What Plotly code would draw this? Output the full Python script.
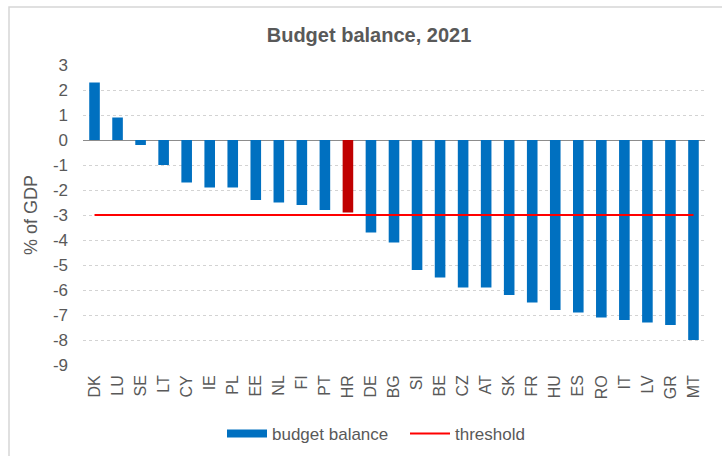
import plotly.graph_objects as go

# Country codes, ordered by budget balance
countries = ["DK", "LU", "SE", "LT", "CY", "IE", "PL", "EE", "NL", "FI", "PT", "HR",
             "DE", "BG", "SI", "BE", "CZ", "AT", "SK", "FR", "HU", "ES", "RO", "IT",
             "LV", "GR", "MT"]
balance = [2.3, 0.9, -0.2, -1.0, -1.7, -1.9, -1.9, -2.4, -2.5, -2.6, -2.8, -2.9,
           -3.7, -4.1, -5.2, -5.5, -5.9, -5.9, -6.2, -6.5, -6.8, -6.9, -7.1, -7.2,
           -7.3, -7.4, -8.0]
threshold_value = -3
highlight = "HR"
y_ticks = [3, 2, 1, 0, -1, -2, -3, -4, -5, -6, -7, -8, -9]

BLUE = "#0070C0"
DARK_RED = "#C00000"
RED = "#FF0000"
TEXT = "#595959"
FONT = "Liberation Sans, Arial, sans-serif"

bar_colors = [DARK_RED if c == highlight else BLUE for c in countries]

fig = go.Figure()
fig.add_trace(go.Bar(
    x=countries, y=balance, name="budget balance", showlegend=False,
    marker=dict(color=bar_colors, line=dict(width=0)),
))
# wide rectangular legend key for the bars
fig.add_trace(go.Scatter(
    x=[None], y=[None], name="budget balance", mode="lines",
    line=dict(color=BLUE, width=8),
))
fig.add_trace(go.Scatter(
    x=countries, y=[threshold_value] * len(countries), name="threshold",
    mode="lines", line=dict(color=RED, width=2),
))

W, H = 722, 456
L, R, T, B = 83, 17, 65, 91
pw, ph = W - L - R, H - T - B


def px_x(p):
    return (p - L) / pw


def px_y(p):
    return (H - B - p) / ph


fig.update_layout(
    width=W, height=H,
    margin=dict(l=L, r=R, t=T, b=B, autoexpand=False),
    paper_bgcolor="white", plot_bgcolor="white",
    font=dict(family=FONT, color=TEXT),
    title=dict(text="<b>Budget balance, 2021</b>", x=369 / W, xanchor="center",
               y=1 - 35 / H, yanchor="middle", xref="container", yref="container",
               font=dict(size=20, color=TEXT, family=FONT)),
    bargap=0.54,
    showlegend=True,
    legend=dict(orientation="h", x=405 / W, xanchor="center", xref="container",
                y=1 - 434 / H, yanchor="middle", yref="container",
                font=dict(size=17, color=TEXT), itemwidth=40, entrywidth=128,
                bgcolor="rgba(0,0,0,0)", traceorder="normal"),
    xaxis=dict(
        type="category", tickangle=-90, tickfont=dict(size=16, color=TEXT),
        showgrid=False, showline=False, ticks="", ticklabelstandoff=6,
        automargin=False,
    ),
    yaxis=dict(
        range=[-9, 3], tickvals=y_ticks, ticktext=[str(v) for v in y_ticks],
        tickfont=dict(size=17, color=TEXT),
        showgrid=True, gridcolor="#D3D3D3", griddash="3px,3px", gridwidth=1,
        zeroline=True, zerolinecolor="#8C8C8C", zerolinewidth=1,
        showline=False, ticks="", ticklabelstandoff=14, automargin=False,
        title=dict(text="% of GDP", font=dict(size=18, color=TEXT), standoff=10),
    ),
    shapes=[dict(type="rect", xref="paper", yref="paper",
                 x0=px_x(9), x1=px_x(730), y0=px_y(462), y1=px_y(7),
                 line=dict(color="#D6D6D6", width=1.5), fillcolor="rgba(0,0,0,0)",
                 layer="below")],
)

fig.write_html("out.html")
